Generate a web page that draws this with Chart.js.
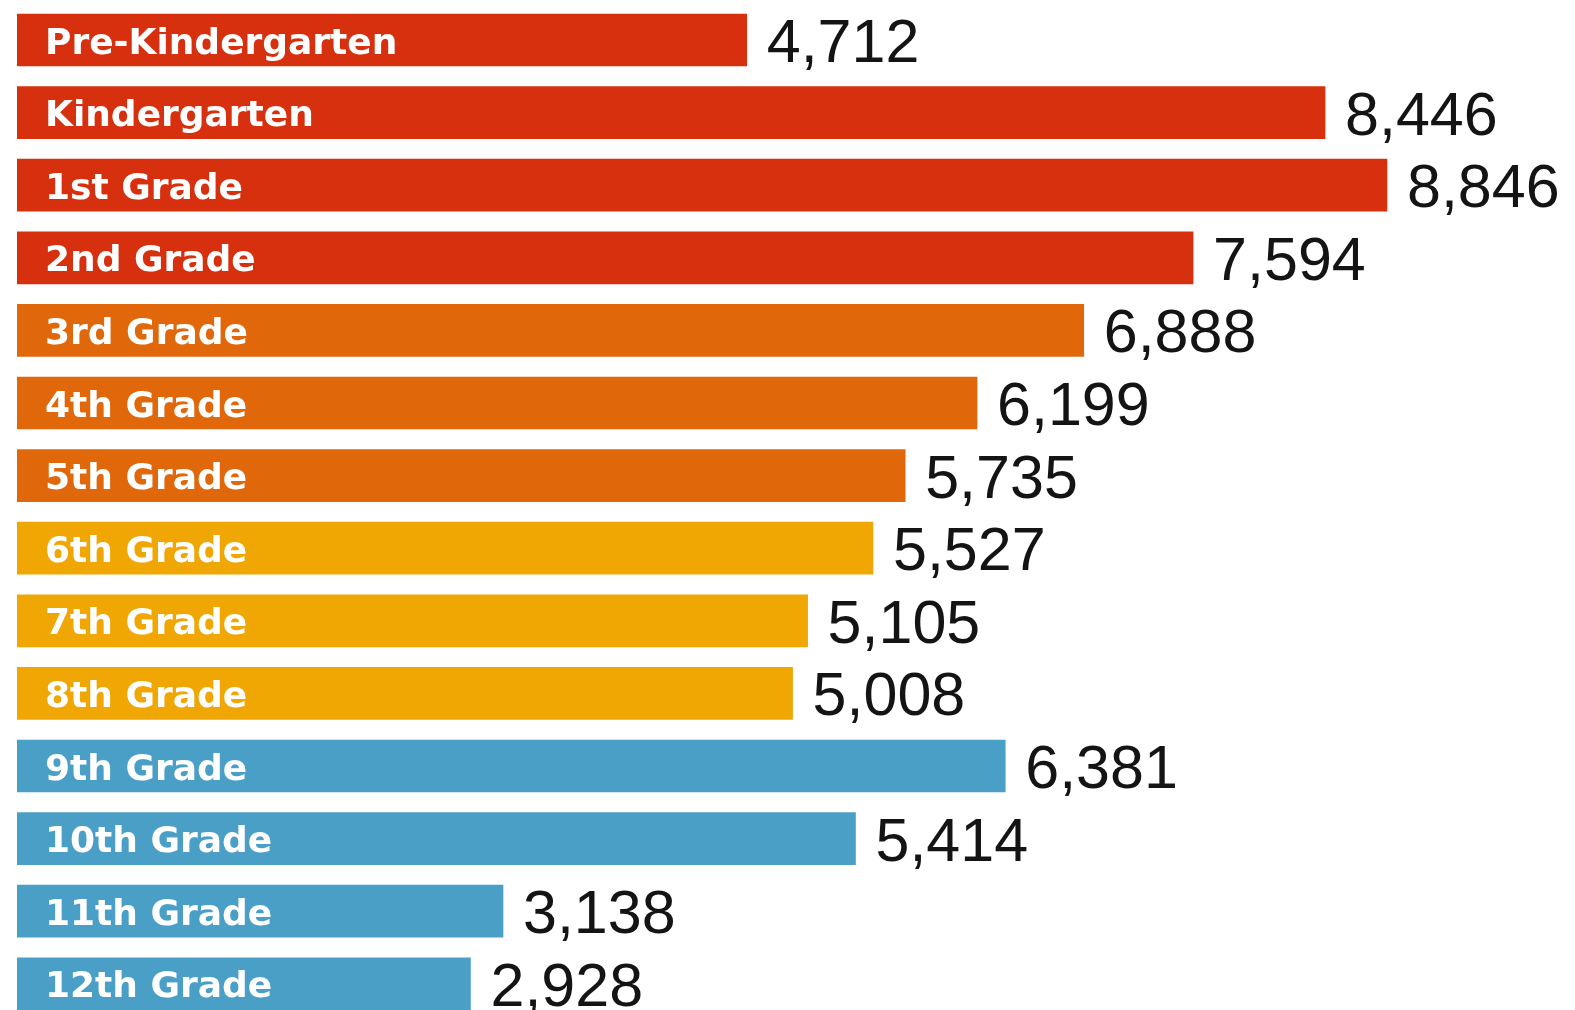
<!DOCTYPE html>
<html>
<head>
<meta charset="utf-8">
<script src="https://cdn.jsdelivr.net/npm/chart.js@4"></script>
<style>
html,body{margin:0;padding:0;background:#fff;overflow:hidden;}
#wrap{width:1575px;height:1021px;}
</style>
</head>
<body>
<div id="wrap"><canvas id="c" width="1575" height="1021"></canvas></div>
<script>
const categories = ["Pre-Kindergarten","Kindergarten","1st Grade","2nd Grade","3rd Grade","4th Grade","5th Grade","6th Grade","7th Grade","8th Grade","9th Grade","10th Grade","11th Grade","12th Grade"];
const values = [4712,8446,8846,7594,6888,6199,5735,5527,5105,5008,6381,5414,3138,2928];
const barColors = ["#D7300F","#D7300F","#D7300F","#D7300F","#E0680A","#E0680A","#E0680A","#F0A704","#F0A704","#F0A704","#4A9FC6","#4A9FC6","#4A9FC6","#4A9FC6"];

const labelPlugin = {
  id: 'barLabels',
  afterDatasetsDraw(chart) {
    const ctx = chart.ctx;
    const meta = chart.getDatasetMeta(0);
    ctx.save();
    meta.data.forEach((bar, i) => {
      const cy = bar.y;
      // category label inside the bar
      ctx.font = 'bold 36px "DejaVu Sans"';
      ctx.fillStyle = '#ffffff';
      ctx.textAlign = 'left';
      ctx.textBaseline = 'alphabetic';
      ctx.fillText(categories[i], bar.base + 28, cy + 13.5);
      // value label to the right of the bar
      ctx.font = '61px "Liberation Sans"';
      ctx.fillStyle = '#141414';
      ctx.fillText(values[i].toLocaleString('en-US'), bar.x + 20, cy + 22);
    });
    ctx.restore();
  }
};

new Chart(document.getElementById('c'), {
  type: 'bar',
  data: {
    labels: categories,
    datasets: [{
      data: values,
      backgroundColor: barColors,
      borderWidth: 0,
      barThickness: 52,
      categoryPercentage: 1,
      barPercentage: 1
    }]
  },
  options: {
    indexAxis: 'y',
    responsive: false,
    animation: false,
    events: [],
    layout: { padding: { left: 17, right: 0, top: 3.7, bottom: 0.9 } },
    plugins: { legend: { display: false }, tooltip: { enabled: false } },
    scales: {
      x: { display: false, min: 0, max: 10060 },
      y: { display: false }
    }
  },
  plugins: [labelPlugin]
});
</script>
</body>
</html>
